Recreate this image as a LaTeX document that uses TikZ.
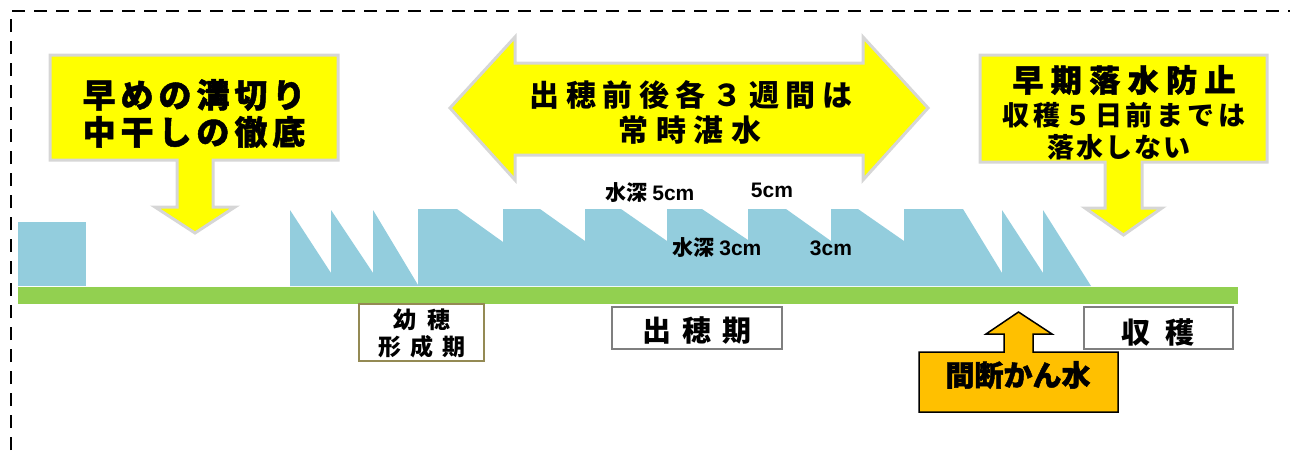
\documentclass[tikz,border=0pt]{standalone}
\usepackage{fontspec}
\setmainfont{Liberation Sans}
\newfontfamily\jp{Noto Sans CJK JP}
\newfontfamily\jph{Noto Sans CJK JP}[FakeBold=1.5]
\newfontfamily\lat{Liberation Sans}
\newcommand{\spc}[2]{{\addfontfeature{LetterSpace=#1}#2}}
\definecolor{water}{HTML}{93CDDD}
\definecolor{grass}{HTML}{92D050}
\definecolor{callgray}{HTML}{D6D6D6}
\definecolor{boxolive}{HTML}{948A54}
\definecolor{orng}{HTML}{FFC000}
\definecolor{boxgray}{HTML}{7F7F7F}
\definecolor{brightyellow}{HTML}{FFFF00}
\begin{document}
\begin{tikzpicture}[x=1pt,y=-1pt,
  callout/.style={fill=brightyellow,draw=callgray,line width=3pt,line join=miter},
  txt/.style={inner sep=0pt,anchor=center},
  stagebox/.style={fill=white,draw=boxgray,line width=1.2pt},
  waterlbl/.style={inner sep=0pt,font=\jp\bfseries\fontsize{21}{24}\selectfont}]
\useasboundingbox (0,0) rectangle (1290,450);
% dashed frame
\draw[dash pattern=on 13pt off 9pt,line width=1.8pt] (11,450) -- (11,11) -- (1290,11);

% water
\fill[water] (18,222) rectangle (86,286);
\fill[water] (290,286) -- (290,210) -- (331,273) -- (331,210) -- (373,273) -- (373,210)
  -- (418,285) -- (418,209) -- (457,209) -- (503,242) -- (503,209) -- (540,209)
  -- (585,241) -- (585,209) -- (621,209) -- (667,241) -- (667,209) -- (702,209)
  -- (748,240) -- (748,209) -- (786,209) -- (831,241) -- (831,209) -- (858,209)
  -- (904,241) -- (904,209) -- (963,209) -- (1002,273) -- (1002,210) -- (1043,273)
  -- (1043,210) -- (1091,286) -- cycle;
% ground
\fill[grass] (18,287) rectangle (1238,304);

% left callout
\draw[callout] (50,55) -- (338,55) -- (338,160) -- (213,160) -- (213,207) -- (235,207)
  -- (195,233) -- (155,207) -- (177,207) -- (177,160) -- (50,160) -- cycle;
\node[txt] (l1) at (194,95) {\jph\bfseries\fontsize{33}{38}\selectfont\spc{15}{早めの溝切り}};
\node[txt] (l2) at (194,132) {\jph\bfseries\fontsize{33}{38}\selectfont\spc{15}{中干しの徹底}};

% center double arrow
\draw[callout] (450,108) -- (515,37) -- (515,63) -- (863,63) -- (863,37) -- (928,108)
  -- (863,180) -- (863,155) -- (515,155) -- (515,180) -- cycle;
\node[txt] (c1) at (691,95) {\jp\bfseries\fontsize{30}{34}\selectfont\spc{22}{出穂前後各３週間は}};
\node[txt] (c2) at (690,130) {\jp\bfseries\fontsize{30}{34}\selectfont\spc{25}{常時湛水}};

% right callout
\draw[callout] (980,55) -- (1267,55) -- (1267,162) -- (1142,162) -- (1142,208) -- (1162,208)
  -- (1123.5,235) -- (1085,208) -- (1105,208) -- (1105,162) -- (980,162) -- cycle;
\node[txt] (r1) at (1124,80) {\jph\bfseries\fontsize{31}{35}\selectfont\spc{24}{早期落水防止}};
\node[txt] (r2) at (1124,115) {\jp\bfseries\fontsize{27}{30}\selectfont\spc{14}{収穫５日前までは}};
\node[txt] (r3) at (1119,147) {\jp\bfseries\fontsize{27}{30}\selectfont\spc{8}{落水しない}};

% water depth labels
\node[waterlbl] (w5a) at (650,193) {水深 {\lat\bfseries 5cm}};
\node[waterlbl] (w5b) at (772,190) {{\lat\bfseries 5cm}};
\node[waterlbl] (w3a) at (717,248) {水深 {\lat\bfseries 3cm}};
\node[waterlbl] (w3b) at (831,248) {{\lat\bfseries 3cm}};

% stage boxes
\draw[fill=white,draw=boxolive,line width=2.5pt] (359,304) rectangle (484,361);
\node[txt] (s1a) at (422,320) {\jp\bfseries\fontsize{23}{26}\selectfont\spc{48}{幼穂}};
\node[txt] (s1b) at (422,347) {\jp\bfseries\fontsize{23}{26}\selectfont\spc{41}{形成期}};
\draw[stagebox] (612,307) rectangle (782,349);
\node[txt] (s2) at (697,331) {\jp\bfseries\fontsize{29}{32}\selectfont\spc{38}{出穂期}};
\draw[stagebox] (1084,307) rectangle (1233,349);
\node[txt] (s3) at (1158,332) {\jp\bfseries\fontsize{29}{32}\selectfont\spc{52}{収穫}};

% intermittent irrigation arrow
\draw[fill=orng,draw=black,line width=1.5pt,line join=miter] (919,352) -- (1004,352) -- (1004,334)
  -- (986,334) -- (1018.5,312) -- (1052,334) -- (1033,334) -- (1033,352) -- (1118,352)
  -- (1118,412) -- (919,412) -- cycle;
\node[txt] (ik) at (1018,375) {\jph\bfseries\fontsize{29}{32}\selectfont 間断かん水};
\end{tikzpicture}
\end{document}
